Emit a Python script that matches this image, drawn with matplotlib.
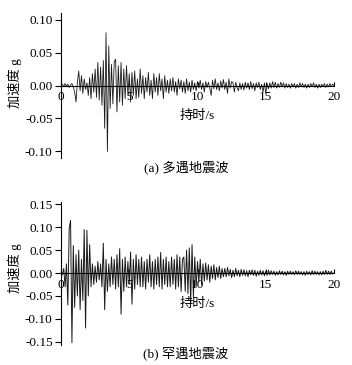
import numpy as np
import matplotlib
matplotlib.use("Agg")
import matplotlib.pyplot as plt

plt.rcParams['font.family'] = ['Liberation Serif', 'Noto Sans CJK SC', 'DejaVu Sans']

# time axis: 0 to 20 s, 0.1 s sampling
time_s = np.round(np.arange(0, 201) * 0.1, 1)

# (a) frequent earthquake wave (g)
acc_frequent = [
    0.000, 0.002, -0.002, 0.003, -0.001, 0.002, -0.003, 0.001, 0.003, -0.002,
    -0.010, -0.025, 0.005, 0.022, -0.008, 0.015, -0.012, 0.010, -0.006, 0.004,
    -0.015, 0.012, -0.020, 0.018, -0.010, 0.025, -0.018, 0.035, -0.022, 0.028,
    -0.030, 0.038, -0.065, 0.080, -0.100, 0.060, -0.035, 0.032, -0.028, 0.036,
    0.040, -0.040, 0.030, -0.025, 0.035, -0.030, 0.025, -0.020, 0.030, -0.015,
    0.018, -0.025, 0.020, -0.015, 0.022, -0.020, 0.010, -0.018, 0.025, -0.012,
    0.015, -0.020, 0.012, -0.010, 0.020, -0.015, 0.008, -0.020, 0.018, -0.010,
    0.012, -0.015, 0.018, -0.008, 0.010, -0.020, 0.015, -0.010, 0.008, -0.012,
    0.010, -0.008, 0.012, -0.010, 0.006, -0.015, 0.010, -0.005, 0.008, -0.010,
    0.006, -0.012, 0.010, -0.008, 0.005, -0.010, 0.008, -0.006, 0.004, -0.008,
    0.006, -0.004, 0.008, -0.006, 0.004, -0.010, 0.006, -0.003, 0.005, -0.004,
    -0.015, 0.008, -0.005, 0.010, -0.006, 0.004, -0.008, 0.007, -0.004, 0.009,
    -0.006, 0.005, -0.012, 0.010, -0.004, 0.006, 0.004, -0.010, 0.005, -0.003,
    -0.008, 0.004, -0.006, 0.003, -0.007, 0.005, -0.004, 0.004, -0.006, 0.006,
    -0.005, 0.003, -0.008, 0.004, -0.003, 0.005, -0.006, 0.002, -0.010, 0.004,
    -0.012, 0.003, -0.005, 0.004, -0.004, 0.006, -0.003, 0.005, -0.004, 0.003,
    -0.003, 0.005, -0.002, 0.004, -0.004, 0.003, -0.003, 0.002, -0.004, 0.003,
    -0.002, 0.003, -0.004, 0.002, -0.003, 0.004, -0.002, 0.003, -0.003, 0.002,
    -0.004, 0.002, -0.003, 0.003, -0.002, 0.004, -0.003, 0.002, -0.004, 0.002,
    -0.003, 0.002, -0.002, 0.003, -0.003, 0.002, -0.002, 0.003, -0.002, 0.002,
    0.000,
]

# (b) rare earthquake wave (g)
acc_rare = [
    0.002, -0.004, 0.010, -0.030, 0.020, -0.070, 0.097, 0.115, -0.152, 0.060,
    -0.075, 0.040, -0.050, 0.050, -0.080, 0.030, -0.060, 0.095, -0.120, 0.093,
    -0.050, 0.062, -0.030, 0.020, -0.025, 0.015, -0.020, 0.025, -0.015, 0.020,
    -0.030, 0.065, -0.080, 0.030, -0.040, 0.020, -0.030, 0.035, -0.025, 0.030,
    -0.035, 0.040, -0.030, 0.053, -0.090, 0.030, -0.040, 0.035, -0.030, 0.025,
    -0.025, 0.046, -0.068, 0.030, -0.035, 0.040, -0.025, 0.030, -0.030, 0.035,
    -0.030, 0.025, -0.035, 0.030, -0.020, 0.040, -0.030, 0.025, -0.035, 0.030,
    -0.025, 0.035, -0.030, 0.045, -0.035, 0.030, -0.025, 0.035, -0.030, 0.025,
    -0.030, 0.035, -0.025, 0.030, -0.035, 0.040, -0.030, 0.035, -0.040, 0.030,
    0.035, -0.040, 0.050, -0.045, 0.055, -0.065, 0.062, -0.053, 0.035, -0.030,
    0.025, -0.020, 0.030, -0.025, 0.020, -0.018, 0.022, -0.015, 0.018, -0.020,
    0.015, -0.012, 0.018, -0.015, 0.012, -0.010, 0.015, -0.012, 0.010, -0.008,
    0.010, -0.008, 0.012, -0.006, 0.008, -0.010, 0.006, -0.008, 0.010, -0.006,
    0.006, -0.008, 0.008, -0.005, 0.007, -0.006, 0.005, -0.008, 0.006, -0.004,
    0.007, -0.005, 0.006, -0.007, 0.004, -0.005, 0.006, -0.004, 0.005, -0.006,
    0.004, -0.005, 0.006, -0.004, 0.005, -0.003, 0.004, -0.005, 0.003, -0.004,
    0.005, -0.003, 0.004, -0.004, 0.003, -0.005, 0.004, -0.003, 0.004, -0.003,
    0.003, -0.004, 0.005, -0.003, 0.004, -0.003, 0.003, -0.004, 0.003, -0.005,
    0.004, -0.003, 0.003, -0.004, 0.005, -0.003, 0.004, -0.003, 0.003, -0.004,
    0.003, -0.004, 0.004, -0.003, 0.006, -0.003, 0.004, -0.003, 0.004, -0.002,
    0.000,
]

x_ticks = [0, 5, 10, 15, 20]
yticks_a = [-0.10, -0.05, 0.00, 0.05, 0.10]
yticks_b = [-0.15, -0.10, -0.05, 0.00, 0.05, 0.10, 0.15]

W, H = 352, 365
fig = plt.figure(figsize=(W / 100, H / 100), dpi=100)

ax_a = fig.add_axes([61 / W, 1 - 158 / H, 273 / W, 145 / H])
ax_b = fig.add_axes([61 / W, 1 - 345 / H, 273 / W, 143 / H])

def style(ax, yt, ylim, caption, cap_y, ylab_y):
    ax.set_xlim(0, 20)
    ax.set_ylim(*ylim)
    ax.spines['top'].set_visible(False)
    ax.spines['right'].set_visible(False)
    ax.spines['bottom'].set_position(('data', 0))
    ax.spines['left'].set_linewidth(0.8)
    ax.spines['bottom'].set_linewidth(0.8)
    ax.set_xticks(x_ticks)
    ax.set_xticklabels([str(v) for v in x_ticks])
    ax.set_yticks(yt)
    ax.set_yticklabels([f"{v:.2f}" for v in yt])
    ax.tick_params(axis='y', direction='out', length=4, width=0.8, labelsize=9.5, pad=2)
    ax.tick_params(axis='x', direction='in', length=3, width=0.8, labelsize=9.5, pad=4)
    fig.text(15 / W, 1 - ylab_y / H, "加速度 g", rotation=90, ha='center', va='center',
             fontsize=9.5)
    ax.text(0.5, 0.29, "持时/s", transform=ax.transAxes, ha='center', va='center', fontsize=9.5)
    fig.text(186 / W, 1 - cap_y / H, caption, ha='center', va='center', fontsize=9.5)

ax_a.plot(time_s, acc_frequent, color='#1a1a1a', lw=0.6)
ax_b.plot(time_s, acc_rare, color='#1a1a1a', lw=0.7)

style(ax_a, yticks_a, (-0.11, 0.11), "(a) 多遇地震波", 167, 83)
style(ax_b, yticks_b, (-0.157, 0.155), "(b) 罕遇地震波", 353, 268)

fig.savefig("out.png", dpi=100)
